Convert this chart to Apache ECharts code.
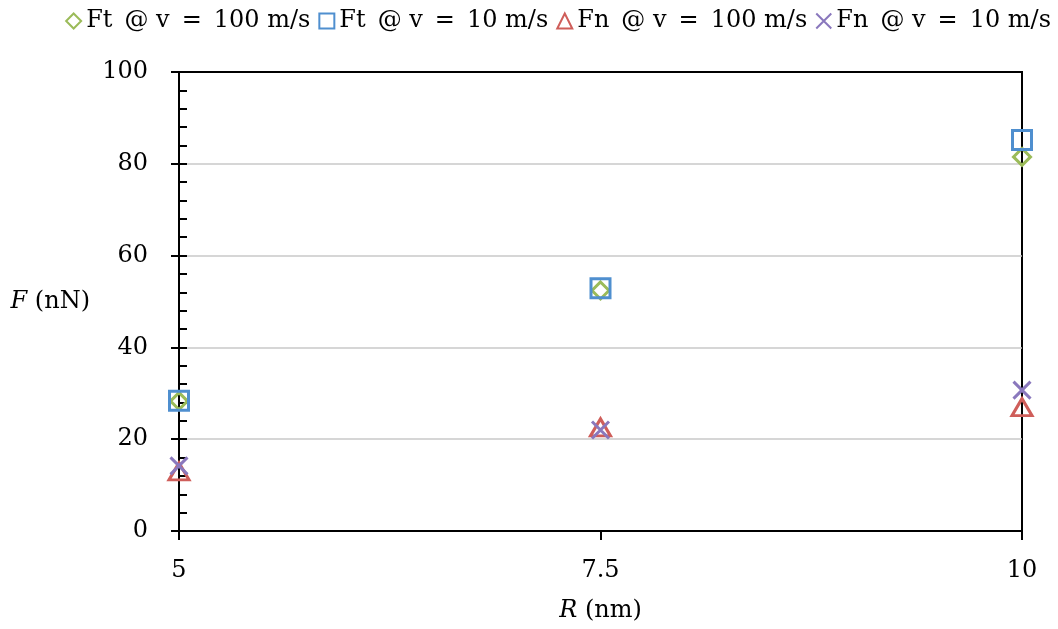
<!DOCTYPE html>
<html>
<head>
<meta charset="utf-8">
<script src="https://cdn.jsdelivr.net/npm/echarts@6/dist/echarts.min.js"></script>
<style>
  html, body { margin: 0; padding: 0; background: #fff; }
  #chart { width: 1058px; height: 629px; }
</style>
</head>
<body>
<div id="chart"></div>
<script>
// Particle radius (nm) and forces (nN)
const radii = [5, 7.5, 10];
const ftFast = [28.3, 52.4, 81.5];   // Ft @ v = 100 m/s
const ftSlow = [28.4, 52.9, 85.2];   // Ft @ v = 10 m/s
const fnFast = [13.0, 22.6, 27.0];   // Fn @ v = 100 m/s
const fnSlow = [14.2, 22.0, 30.7];   // Fn @ v = 10 m/s
const seriesNames = ['Ft @ v = 100 m/s', 'Ft @ v = 10 m/s', 'Fn @ v = 100 m/s', 'Fn @ v = 10 m/s'];

const FONT = 'DejaVu Serif';
const FS = 24;
const pairs = ys => radii.map((r, i) => [r, ys[i]]);

const CROSS = 'path://M0,0L20,20M20,0L0,20';
// wider spacing around the relation symbols, as in typeset math
const spaced = name => name.replace(' @', '\u2002@').replace(' = ', '\u2002=\u2002');

function scatter(name, ys, symbol, size, color) {
  return {
    name: name,
    type: 'scatter',
    data: pairs(ys),
    symbol: symbol,
    symbolSize: size,
    itemStyle: { color: '#ffffff00', borderColor: color, borderWidth: 3, opacity: 1 },
    emphasis: { disabled: true }
  };
}

const chart = echarts.init(document.getElementById('chart'));
chart.setOption({
  animation: false,
  legend: {
    right: 2, top: 4,
    itemWidth: 15, itemHeight: 15, itemGap: 8,
    formatter: spaced,
    textStyle: { fontFamily: FONT, fontSize: FS, color: '#000' },
    data: seriesNames
  },
  grid: {
    left: 179, right: 36, top: 72, bottom: 98,
    show: true, borderColor: '#000', borderWidth: 2, backgroundColor: 'transparent'
  },
  xAxis: {
    type: 'value', min: 5, max: 10, interval: 2.5,
    name: '{it|R} (nm)', nameLocation: 'middle', nameGap: 68,
    nameTextStyle: {
      fontFamily: FONT, fontSize: FS, color: '#000',
      rich: { it: { fontFamily: FONT, fontSize: FS, fontStyle: 'italic', color: '#000' } }
    },
    axisLine: { lineStyle: { color: '#000', width: 2 } },
    axisTick: { length: 9, lineStyle: { color: '#000', width: 2 } },
    axisLabel: { margin: 28, fontFamily: FONT, fontSize: FS, color: '#000' },
    splitLine: { show: false }
  },
  yAxis: [
    {
      type: 'value', min: 0, max: 100, interval: 20,
      name: '{it|F} (nN)', nameLocation: 'middle', nameRotate: 0, nameGap: 89,
      nameTextStyle: {
        fontFamily: FONT, fontSize: FS, color: '#000',
        rich: { it: { fontFamily: FONT, fontSize: FS, fontStyle: 'italic', color: '#000' } }
      },
      axisLine: { lineStyle: { color: '#000', width: 2 } },
      axisTick: { inside: true, length: 8, lineStyle: { color: '#000', width: 2 } },
      minorTick: { show: true, splitNumber: 5, length: 8, lineStyle: { color: '#000', width: 2 } },
      axisLabel: { margin: 31, fontFamily: FONT, fontSize: FS, color: '#000' },
      splitLine: { showMinLine: false, showMaxLine: false, lineStyle: { color: '#c8c8c8', width: 1.5 } }
    },
    {
      type: 'value', min: 0, max: 100, interval: 20, position: 'left', offset: 0,
      axisLine: { show: false },
      axisTick: { inside: false, length: 8, lineStyle: { color: '#000', width: 2 } },
      axisLabel: { show: false },
      splitLine: { show: false }
    }
  ],
  series: [
    scatter(seriesNames[0], ftFast, 'diamond', [17, 17], '#9bbb59'),
    scatter(seriesNames[1], ftSlow, 'rect', 19, '#4f8fcf'),
    scatter(seriesNames[2], fnFast, 'triangle', [20, 17], '#cf5e5a'),
    scatter(seriesNames[3], fnSlow, CROSS, 17, '#8a78bd')
  ]
});
</script>
</body>
</html>
